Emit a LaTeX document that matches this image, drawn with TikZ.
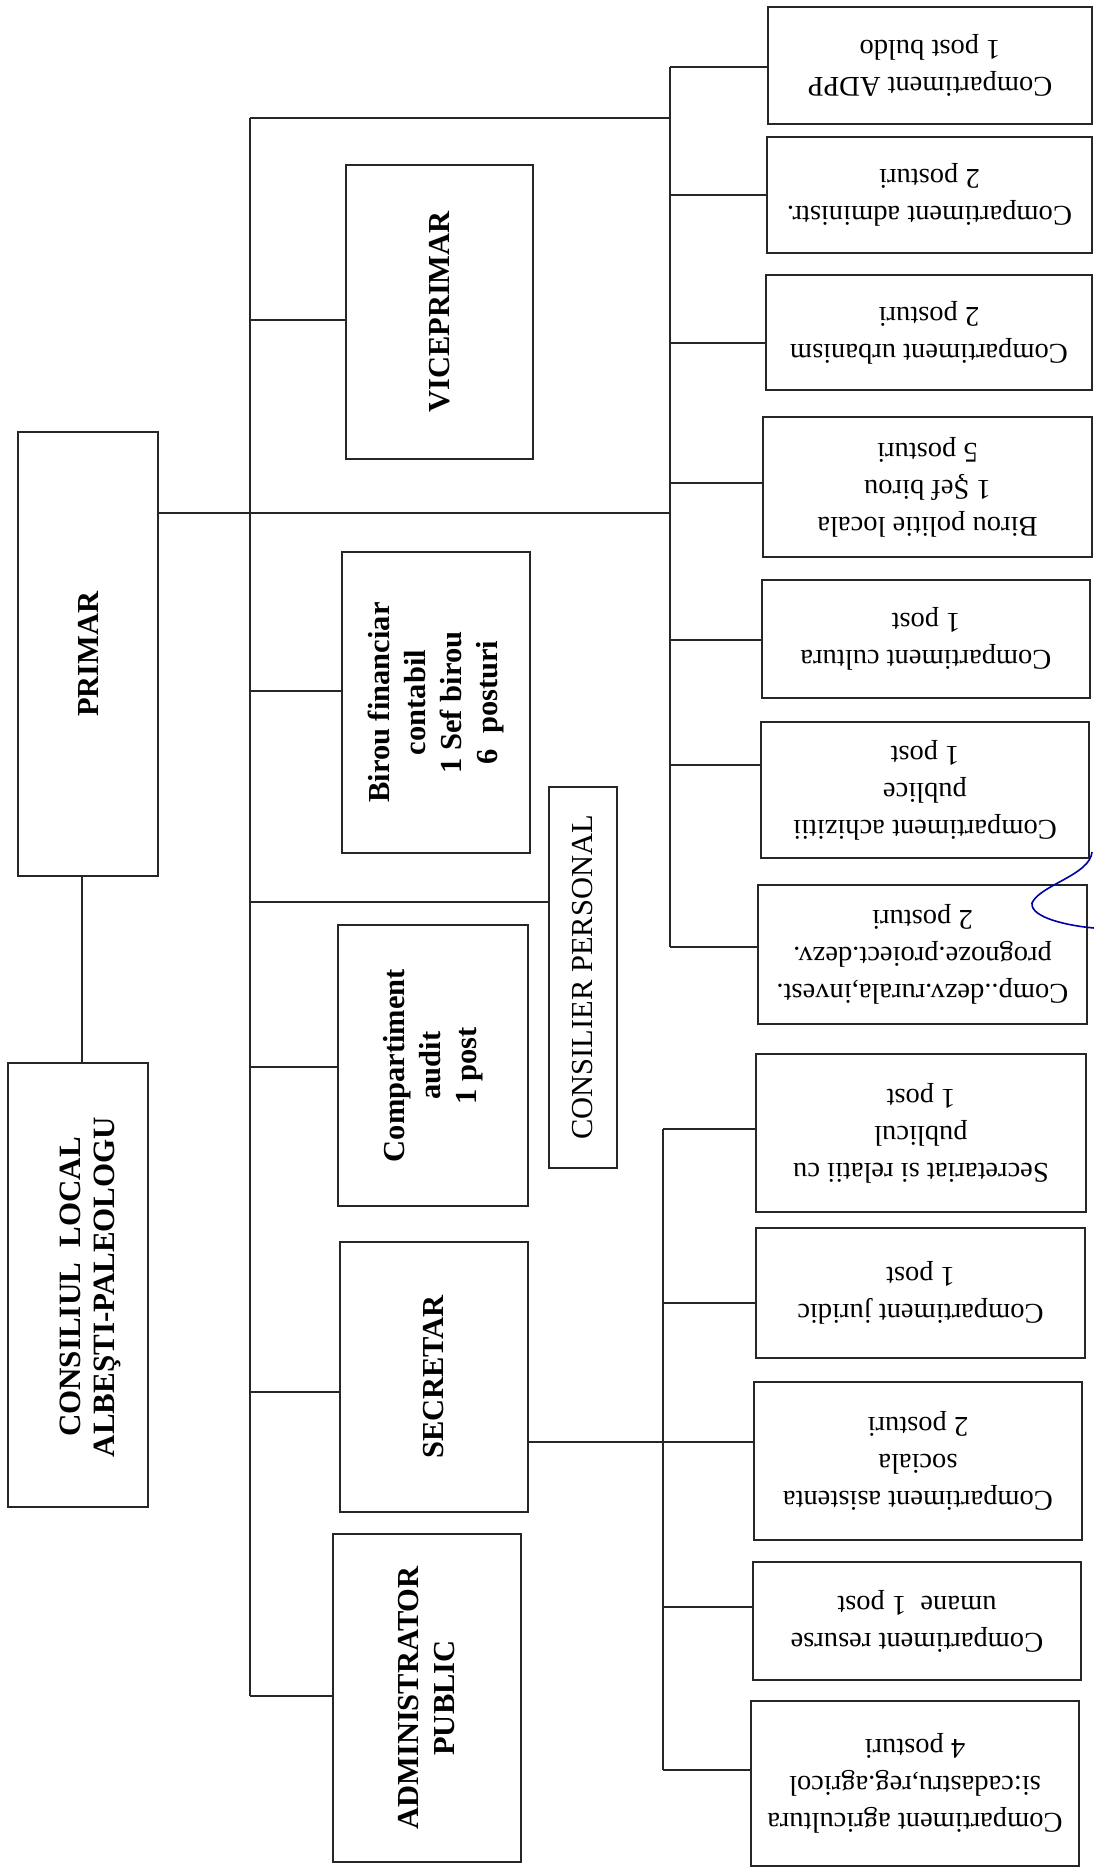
\documentclass[tikz,border=0pt]{standalone}
\usepackage{fontspec}
\setmainfont{Liberation Serif}
\begin{document}
\begin{tikzpicture}[x=1pt,y=-1pt,
  ln/.style={line width=1.7pt,draw=black!85},
  bx/.style={draw=black!85,line width=1.7pt,fill=white,inner sep=2pt,align=center},
  lbox/.style={bx,rotate=90,font=\fontsize{30.5}{36}\selectfont\bfseries},
  rbox/.style={bx,rotate=180,font=\fontsize{28.5}{37}\selectfont},
  cbox/.style={bx,rotate=90,font=\fontsize{30.5}{36}\selectfont}]
\useasboundingbox (0,0) rectangle (1094,1873);
\fill[white] (0,0) rectangle (1094,1873);

% left column
\node[lbox,minimum width=444pt,minimum height=140pt] (primar) at (88,654) {PRIMAR};
\node[lbox,minimum width=444pt,minimum height=140pt] (consiliu) at (78,1285) {};
\node[font=\fontsize{31}{34}\selectfont\bfseries,rotate=90,align=center] (consiliutxt) at (90,1287) {CONSILIUL\ \ LOCAL\\ALBEŞTI-PALEOLOGU};

% middle column
\node[lbox,minimum width=294pt,minimum height=187pt] (vp) at (439.5,312) {VICEPRIMAR};
\node[lbox,minimum width=301pt,minimum height=188pt] (birou) at (436,702.5) {Birou financiar\\contabil\\1 Sef birou\\6\ \ posturi};
\node[cbox,minimum width=381pt,minimum height=68pt] (consilier) at (583,977.5) {CONSILIER PERSONAL};
\node[lbox,minimum width=281pt,minimum height=190pt] (audit) at (433,1065.5) {Compartiment\\audit\\1 post};
\node[lbox,minimum width=270pt,minimum height=188pt] (secretar) at (434,1377) {SECRETAR};
\node[lbox,minimum width=328pt,minimum height=188pt] (admin) at (427,1698) {ADMINISTRATOR\\PUBLIC};

% right column
\node[rbox,minimum width=324pt,minimum height=117pt] (adpp) at (930,65.5) {Compartiment ADPP\\1 post buldo};
\node[rbox,minimum width=325pt,minimum height=116pt] (admst) at (929.5,195) {Compartiment administr.\\2 posturi};
\node[rbox,minimum width=326pt,minimum height=115pt] (urb) at (929,332.5) {Compartiment urbanism\\2 posturi};
\node[rbox,minimum width=329pt,minimum height=140pt] (pol) at (927.5,487) {Birou politie locala\\1 Şef birou\\5 posturi};
\node[rbox,minimum width=328pt,minimum height=118pt] (cult) at (926,639) {Compartiment cultura\\1 post};
\node[rbox,minimum width=328pt,minimum height=136pt] (achiz) at (925,790) {Compartiment achizitii\\publice\\1 post};
\node[rbox,minimum width=329pt,minimum height=139pt] (dezv) at (922.5,954.5) {Comp..dezv.rurala,invest.\\prognoze.proiect.dezv.\\2 posturi};
\node[rbox,minimum width=330pt,minimum height=158pt] (secrel) at (921,1133) {Secretariat si relatii cu\\publicul\\1 post};
\node[rbox,minimum width=329pt,minimum height=130pt] (jur) at (920.5,1293) {Compartiment juridic\\1 post};
\node[rbox,minimum width=328pt,minimum height=158pt] (asist) at (918,1461) {Compartiment asistenta\\sociala\\2 posturi};
\node[rbox,minimum width=328pt,minimum height=118pt] (res) at (917,1621) {Compartiment resurse\\umane\ \ 1 post};
\node[rbox,minimum width=328pt,minimum height=165pt] (agri) at (915,1783.5) {Compartiment agricultura\\si:cadastru,reg.agricol\\4 posturi};

% junction coordinates
\coordinate (Ttop) at (250,118);
\coordinate (Tbot) at (250,1696);
\coordinate (Rtl) at (670,118);
\coordinate (Rtop) at (670,67);
\coordinate (Rbot) at (670,947);
\coordinate (Qtop) at (663,1129);
\coordinate (Qbot) at (663,1770);
\coordinate (Pr) at (670,513);
\coordinate (Pc) at (82,0);

% trunk and buses
\draw[ln] (Ttop) -- (Tbot);
\draw[ln] (Ttop) -- (Rtl);
\draw[ln] (Rtop) -- (Rbot);
\draw[ln] (Qtop) -- (Qbot);

% PRIMAR links
\draw[ln] (Pr -| primar.south) -- (Pr);
\draw[ln] (Pc |- primar.west) -- (Pc |- consiliu.east);

% trunk branches
\coordinate (t1) at (250,320);
\coordinate (t2) at (250,691);
\coordinate (t3) at (250,902);
\coordinate (t4) at (250,1067);
\coordinate (t5) at (250,1392);
\draw[ln] (t1) -- (t1 -| vp.north);
\draw[ln] (t2) -- (t2 -| birou.north);
\draw[ln] (t3) -- (t3 -| consilier.north);
\draw[ln] (t4) -- (t4 -| audit.north);
\draw[ln] (t5) -- (t5 -| secretar.north);
\draw[ln] (Tbot) -- (Tbot -| admin.north);

% upper right branches
\coordinate (r2) at (670,195);
\coordinate (r3) at (670,343);
\coordinate (r4) at (670,483);
\coordinate (r5) at (670,640);
\coordinate (r6) at (670,765);
\draw[ln] (Rtop) -- (Rtop -| adpp.east);
\draw[ln] (r2) -- (r2 -| admst.east);
\draw[ln] (r3) -- (r3 -| urb.east);
\draw[ln] (r4) -- (r4 -| pol.east);
\draw[ln] (r5) -- (r5 -| cult.east);
\draw[ln] (r6) -- (r6 -| achiz.east);
\draw[ln] (Rbot) -- (Rbot -| dezv.east);

% lower right branches
\coordinate (q2) at (663,1303);
\coordinate (q3) at (663,1442);
\coordinate (q4) at (663,1607);
\draw[ln] (Qtop) -- (Qtop -| secrel.east);
\draw[ln] (q2) -- (q2 -| jur.east);
\draw[ln] (q3 -| secretar.south) -- (q3 -| asist.east);
\draw[ln] (q4) -- (q4 -| res.east);
\draw[ln] (Qbot) -- (Qbot -| agri.east);

% pen mark
\draw[blue!65!black,line width=1.6pt] (1092,852) .. controls (1090,875) and (1040,885) .. (1032,903) .. controls (1030,918) and (1070,926) .. (1094,928);
\end{tikzpicture}
\end{document}
